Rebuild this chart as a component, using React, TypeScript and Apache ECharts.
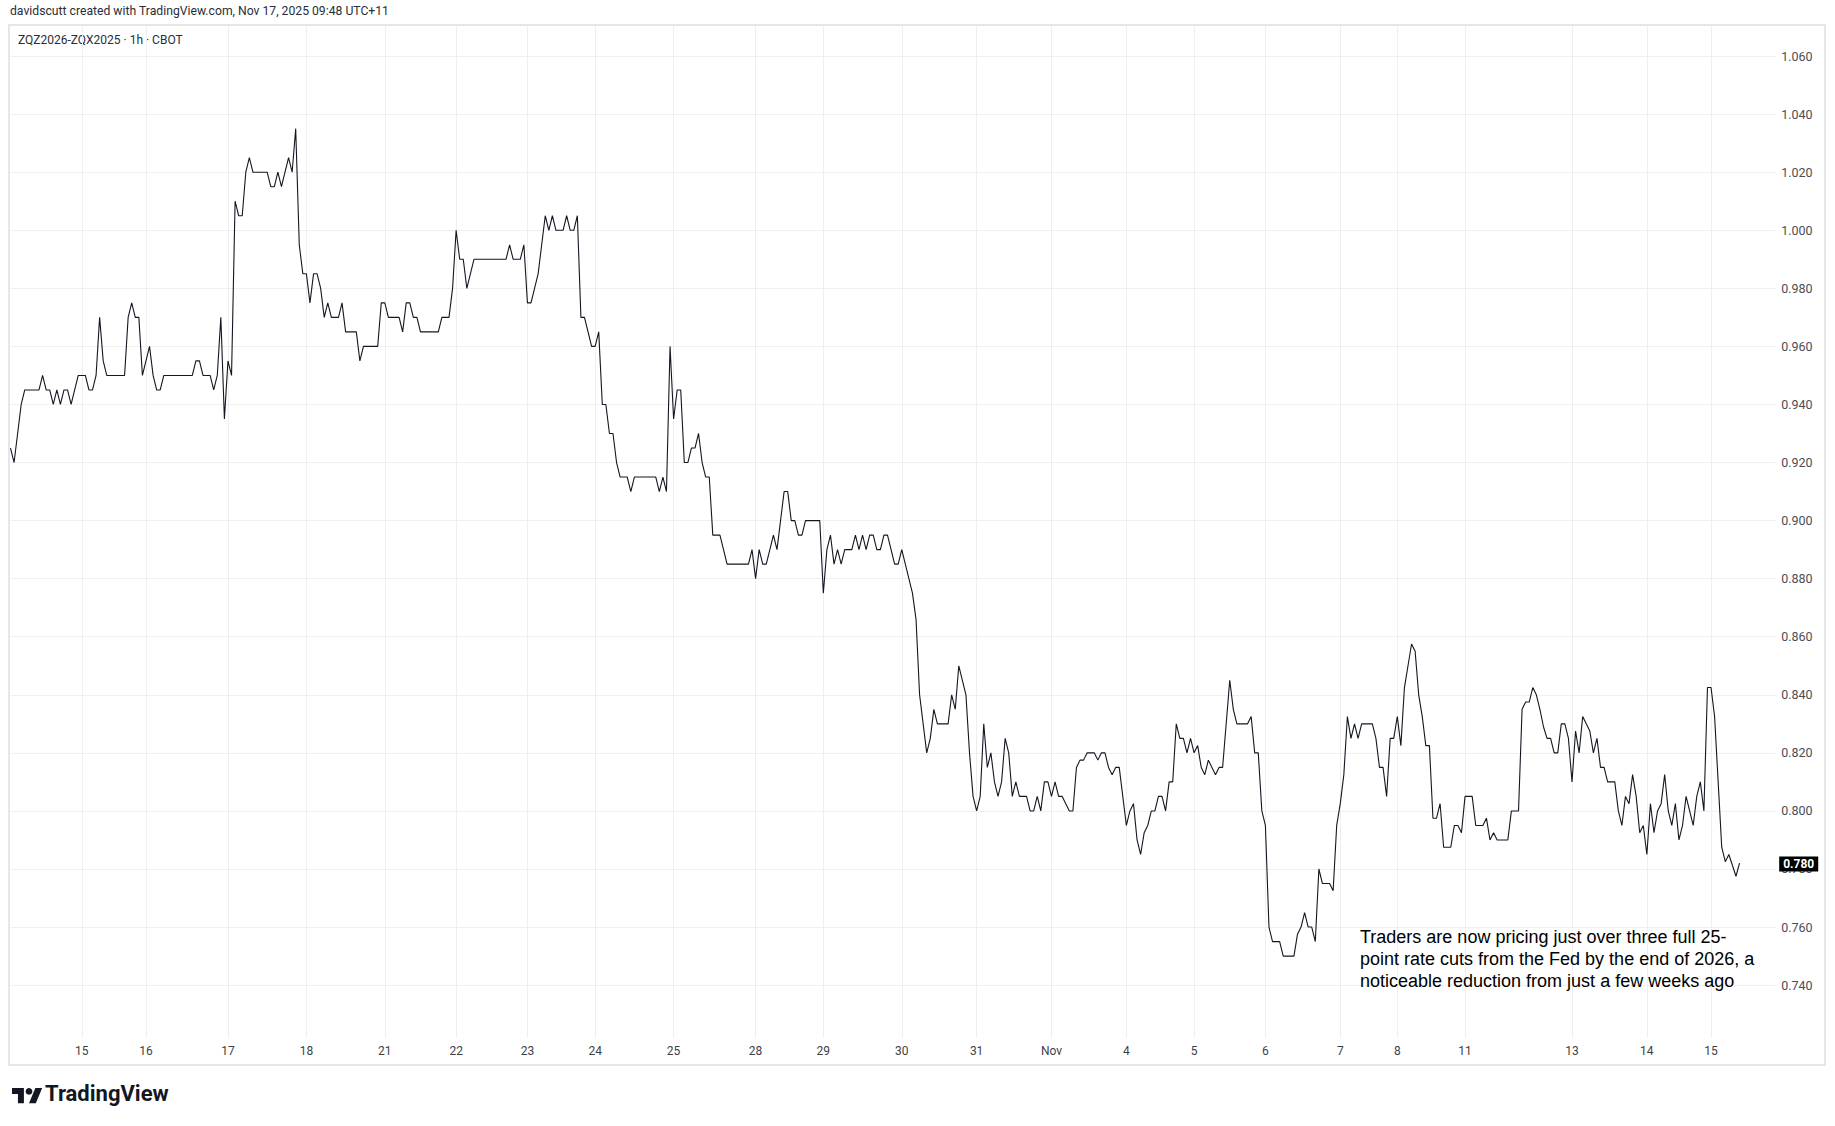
import React, { useEffect, useRef } from "react";
import * as echarts from "echarts";

const headerText = "davidscutt created with TradingView.com, Nov 17, 2025 09:48 UTC+11";
const symbolText = "ZQZ2026-ZQX2025 · 1h · CBOT";
const noteText =
  "Traders are now pricing just over three full 25-\npoint rate cuts from the Fed by the end of 2026, a\nnoticeable reduction from just a few weeks ago";
const brandText = "TradingView";

// hourly bar slots on the (gap-free) time scale
const barCount = 496;
const dayLabels = ["15", "16", "17", "18", "21", "22", "23", "24", "25", "28", "29", "30", "31", "Nov", "4", "5", "6", "7", "8", "11", "13", "14", "15"];
const dayStartBars = [20, 38, 61, 83, 105, 125, 145, 164, 186, 209, 228, 250, 271, 292, 313, 332, 352, 373, 389, 408, 438, 459, 477];

const priceMin = 0.72;
const priceMax = 1.0707;
const priceStep = 0.02;
const displayTick = 0.005;

// [bar, spread] at each change of the ZQZ2026-ZQX2025 close
const spreadBars: [number, number][] = [
  [0, 0.925], [1, 0.92], [2, 0.93], [3, 0.94], [4, 0.945], [8, 0.945], [9, 0.95], [10, 0.945], [11, 0.945], [12, 0.94],
  [13, 0.945], [14, 0.94], [15, 0.945], [16, 0.945], [17, 0.94], [19, 0.95], [21, 0.95], [22, 0.945], [23, 0.945], [24, 0.95],
  [25, 0.97], [26, 0.955], [27, 0.95], [32, 0.95], [33, 0.97], [34, 0.975], [35, 0.97], [36, 0.97], [37, 0.95], [38, 0.955],
  [39, 0.96], [40, 0.95], [41, 0.945], [42, 0.945], [43, 0.95], [51, 0.95], [52, 0.955], [53, 0.955], [54, 0.95], [56, 0.95],
  [57, 0.945], [58, 0.95], [59, 0.97], [60, 0.935], [61, 0.955], [62, 0.95], [63, 1.01], [64, 1.005], [65, 1.005], [66, 1.02],
  [67, 1.025], [68, 1.02], [72, 1.02], [73, 1.015], [74, 1.015], [75, 1.02], [76, 1.015], [77, 1.02], [78, 1.025], [79, 1.02],
  [80, 1.035], [81, 0.995], [82, 0.985], [83, 0.985], [84, 0.975], [85, 0.985], [86, 0.985], [87, 0.98], [88, 0.97], [89, 0.975],
  [90, 0.97], [92, 0.97], [93, 0.975], [94, 0.965], [97, 0.965], [98, 0.955], [99, 0.96], [103, 0.96], [104, 0.975], [105, 0.975],
  [106, 0.97], [109, 0.97], [110, 0.965], [111, 0.975], [112, 0.975], [113, 0.97], [114, 0.97], [115, 0.965], [120, 0.965], [121, 0.97],
  [123, 0.97], [124, 0.98], [125, 1.0], [126, 0.99], [127, 0.99], [128, 0.98], [129, 0.985], [130, 0.99], [139, 0.99], [140, 0.995],
  [141, 0.99], [143, 0.99], [144, 0.995], [145, 0.975], [146, 0.975], [148, 0.985], [149, 0.995], [150, 1.005], [151, 1.0], [152, 1.005],
  [153, 1.0], [155, 1.0], [156, 1.005], [157, 1.0], [158, 1.0], [159, 1.005], [160, 0.97], [161, 0.97], [162, 0.965], [163, 0.96],
  [164, 0.96], [165, 0.965], [166, 0.94], [167, 0.94], [168, 0.93], [169, 0.93], [170, 0.92], [171, 0.915], [173, 0.915], [174, 0.91],
  [175, 0.915], [181, 0.915], [182, 0.91], [183, 0.915], [184, 0.91], [185, 0.96], [186, 0.935], [187, 0.945], [188, 0.945], [189, 0.92],
  [190, 0.92], [191, 0.925], [192, 0.925], [193, 0.93], [194, 0.92], [195, 0.915], [196, 0.915], [197, 0.895], [199, 0.895], [200, 0.89],
  [201, 0.885], [207, 0.885], [208, 0.89], [209, 0.88], [210, 0.89], [211, 0.885], [212, 0.885], [214, 0.895], [215, 0.89], [216, 0.9],
  [217, 0.91], [218, 0.91], [219, 0.9], [220, 0.9], [221, 0.895], [222, 0.895], [223, 0.9], [227, 0.9], [228, 0.875], [229, 0.89],
  [230, 0.895], [231, 0.885], [232, 0.89], [233, 0.885], [234, 0.89], [236, 0.89], [237, 0.895], [238, 0.89], [239, 0.895], [240, 0.89],
  [241, 0.895], [242, 0.895], [243, 0.89], [244, 0.89], [245, 0.895], [246, 0.895], [248, 0.885], [249, 0.885], [250, 0.89], [253, 0.875],
  [254, 0.866], [255, 0.84], [256, 0.83], [257, 0.82], [258, 0.825], [259, 0.835], [260, 0.83], [263, 0.83], [264, 0.84], [265, 0.835],
  [266, 0.85], [267, 0.845], [268, 0.84], [269, 0.82], [270, 0.805], [271, 0.8], [272, 0.805], [273, 0.83], [274, 0.815], [275, 0.82],
  [276, 0.81], [277, 0.805], [278, 0.81], [279, 0.825], [280, 0.82], [281, 0.805], [282, 0.81], [283, 0.805], [285, 0.805], [286, 0.8],
  [287, 0.8], [288, 0.805], [289, 0.8], [290, 0.81], [291, 0.81], [292, 0.805], [293, 0.81], [294, 0.805], [295, 0.805], [297, 0.8],
  [298, 0.8], [299, 0.815], [300, 0.8175], [301, 0.8175], [302, 0.82], [304, 0.82], [305, 0.8175], [306, 0.82], [307, 0.82], [308, 0.815],
  [309, 0.8125], [310, 0.815], [311, 0.815], [313, 0.795], [314, 0.8], [315, 0.8025], [316, 0.79], [317, 0.785], [318, 0.7925], [319, 0.795],
  [320, 0.8], [321, 0.8], [322, 0.805], [323, 0.805], [324, 0.8], [325, 0.81], [326, 0.81], [327, 0.83], [328, 0.825], [329, 0.825],
  [330, 0.82], [331, 0.825], [332, 0.82], [333, 0.8225], [334, 0.815], [335, 0.8125], [336, 0.8175], [338, 0.8125], [339, 0.815], [340, 0.815],
  [342, 0.845], [343, 0.835], [344, 0.83], [347, 0.83], [348, 0.8325], [349, 0.82], [350, 0.82], [351, 0.8], [352, 0.795], [353, 0.76],
  [354, 0.755], [356, 0.755], [357, 0.75], [360, 0.75], [361, 0.7575], [362, 0.76], [363, 0.765], [364, 0.76], [365, 0.76], [366, 0.755],
  [367, 0.78], [368, 0.775], [370, 0.775], [371, 0.7725], [372, 0.795], [373, 0.8025], [374, 0.8125], [375, 0.8325], [376, 0.825], [377, 0.83],
  [378, 0.825], [379, 0.83], [382, 0.83], [383, 0.825], [384, 0.815], [385, 0.815], [386, 0.805], [387, 0.825], [388, 0.825], [389, 0.8325],
  [390, 0.8225], [391, 0.8425], [392, 0.85], [393, 0.8575], [394, 0.855], [395, 0.84], [396, 0.8325], [397, 0.8225], [398, 0.8225], [399, 0.7975],
  [400, 0.7975], [401, 0.8025], [402, 0.7875], [404, 0.7875], [405, 0.795], [406, 0.795], [407, 0.7925], [408, 0.805], [410, 0.805], [411, 0.795],
  [413, 0.795], [414, 0.7975], [415, 0.79], [416, 0.7925], [417, 0.79], [420, 0.79], [421, 0.8], [423, 0.8], [424, 0.835], [425, 0.8375],
  [426, 0.8375], [427, 0.8425], [428, 0.84], [429, 0.835], [430, 0.829], [431, 0.825], [432, 0.825], [433, 0.82], [434, 0.82], [435, 0.83],
  [436, 0.83], [437, 0.825], [438, 0.81], [439, 0.8275], [440, 0.82], [441, 0.8325], [442, 0.83], [443, 0.8275], [444, 0.82], [445, 0.825],
  [446, 0.815], [447, 0.815], [448, 0.81], [450, 0.81], [451, 0.8], [452, 0.795], [453, 0.805], [454, 0.8025], [455, 0.8125], [456, 0.805],
  [457, 0.7925], [458, 0.795], [459, 0.785], [460, 0.8025], [461, 0.7925], [462, 0.8], [463, 0.8025], [464, 0.8125], [465, 0.8], [466, 0.795],
  [467, 0.8025], [468, 0.79], [469, 0.795], [470, 0.805], [471, 0.8], [472, 0.795], [473, 0.805], [474, 0.81], [475, 0.8], [476, 0.8425],
  [477, 0.8425], [478, 0.8325], [479, 0.81], [480, 0.7875], [481, 0.7825], [482, 0.785], [484, 0.7775], [485, 0.782],
];

const FONT = "Roboto, 'Noto Sans', sans-serif";

export default function App() {
  const ref = useRef<HTMLDivElement>(null);

  useEffect(() => {
    if (!ref.current) return;
    const chart = echarts.init(ref.current, undefined, { renderer: "svg" });

    const categories: string[] = [];
    for (let i = 0; i < barCount; i++) categories.push("");
    dayStartBars.forEach((b, k) => (categories[b] = dayLabels[k]));
    const isDayStart = (i: number) => categories[i] !== "";

    const lastValue = spreadBars[spreadBars.length - 1][1];
    const fmtTick = (v: number) => (Math.round(v / displayTick) * displayTick).toFixed(3);

    const gridLeft = 10.5;
    const gridRight = 1835 - 1775.2;
    const gridTop = 25;
    const gridBottom = 1126 - 1043.2;

    chart.setOption({
      animation: false,
      backgroundColor: "#ffffff",
      textStyle: { fontFamily: FONT },
      grid: { left: gridLeft, right: gridRight, top: gridTop, bottom: gridBottom, containLabel: false },
      xAxis: {
        type: "category",
        data: categories,
        boundaryGap: false,
        axisLine: { show: false },
        axisTick: { show: false },
        axisLabel: {
          interval: (i: number) => isDayStart(i),
          color: "#3c3f47",
          fontSize: 12,
          fontFamily: FONT,
          margin: 2,
        },
        splitLine: {
          show: true,
          interval: (i: number) => isDayStart(i),
          lineStyle: { color: "#efefef", width: 1 },
        },
      },
      yAxis: {
        type: "value",
        position: "right",
        min: priceMin,
        max: priceMax,
        interval: priceStep,
        axisLine: { show: false },
        axisTick: { show: false },
        axisLabel: {
          showMinLabel: false,
          showMaxLabel: false,
          color: "#4a4d55",
          fontSize: 12.5,
          fontFamily: FONT,
          margin: 6,
          formatter: (v: number) => v.toFixed(3),
        },
        splitLine: { show: true, lineStyle: { color: "#efefef", width: 1 } },
      },
      series: [
        {
          type: "line",
          data: spreadBars,
          showSymbol: false,
          symbol: "none",
          lineStyle: { color: "#131722", width: 1.1 },
          z: 3,
          markLine: {
            silent: true,
            symbol: ["none", "none"],
            lineStyle: { color: "rgba(0,0,0,0)", width: 0 },
            label: {
              show: true,
              position: "end",
              distance: 4,
              offset: [0, -5],
              formatter: () => fmtTick(lastValue),
              backgroundColor: "#000000",
              color: "#ffffff",
              fontWeight: "bold",
              fontSize: 12,
              fontFamily: FONT,
              padding: [2, 4, 1, 4],
            },
            data: [{ yAxis: lastValue }],
          },
        },
      ],
      graphic: [
        {
          type: "rect",
          z: 50,
          silent: true,
          shape: { x: 10, y: 1038, width: 1766, height: 6.5 },
          style: { fill: "#ffffff" },
        },
        {
          type: "rect",
          z: 60,
          silent: true,
          shape: { x: 9, y: 25, width: 1816, height: 1040 },
          style: { fill: "none", stroke: "#e6e6e6", lineWidth: 2 },
        },
        {
          type: "text",
          left: 10,
          top: 5,
          style: { text: headerText, font: `12.2px ${FONT}`, fill: "#2a2e39" },
        },
        {
          type: "text",
          left: 18,
          top: 34,
          style: { text: symbolText, font: `12px ${FONT}`, fill: "#2a2e39" },
        },
        {
          type: "text",
          left: 1360,
          top: 926,
          z: 40,
          style: {
            text: noteText,
            font: `18px 'Liberation Sans', Arial, sans-serif`,
            lineHeight: 22,
            fill: "#000000",
          },
        },
        {
          type: "group",
          x: 12,
          y: 1084.6,
          scaleX: 0.85,
          scaleY: 0.85,
          children: [
            { type: "polygon", shape: { points: [[14, 22], [7, 22], [7, 11], [0, 11], [0, 4], [14, 4]] }, style: { fill: "#131722" } },
            { type: "polygon", shape: { points: [[28, 22], [20, 22], [27.5, 4], [35.5, 4]] }, style: { fill: "#131722" } },
            { type: "circle", shape: { cx: 20, cy: 8, r: 4 }, style: { fill: "#131722" } },
          ],
        },
        {
          type: "text",
          left: 45,
          top: 1082,
          style: { text: brandText, font: `bold 22px ${FONT}`, fill: "#131722" },
        },
      ],
    });

    return () => chart.dispose();
  }, []);

  return (
    <div
      ref={ref}
      style={{ position: "absolute", left: 0, top: 0, width: 1835, height: 1126, background: "#fff" }}
    />
  );
}
